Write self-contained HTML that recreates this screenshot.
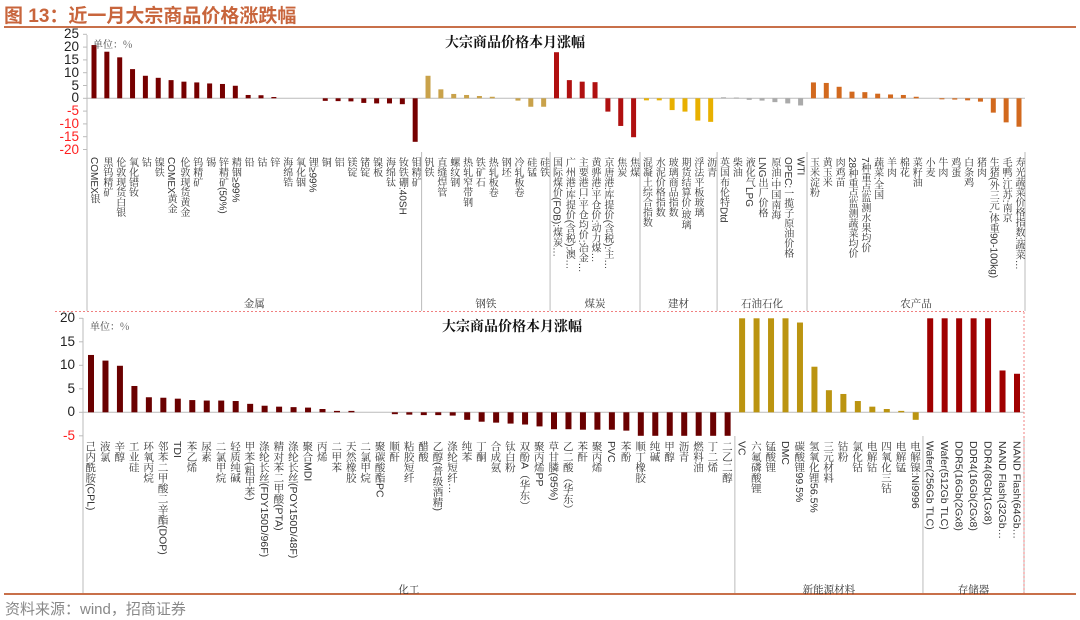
<!DOCTYPE html>
<html><head><meta charset="utf-8">
<style>
body{margin:0;width:1080px;height:620px;background:#fff;position:relative;overflow:hidden;font-family:"Liberation Sans","Noto Sans CJK SC",sans-serif;}
.abs{position:absolute;}
.vl{position:absolute;writing-mode:vertical-rl;white-space:nowrap;color:#333;font-family:"Liberation Sans","Noto Serif CJK SC",serif;line-height:1;}
.tk{position:absolute;font-size:13.5px;text-align:right;width:40px;line-height:1;color:#222;}
.grp{position:absolute;font-size:10.5px;color:#333;font-family:"Noto Serif CJK SC",serif;transform:translateX(-50%);white-space:nowrap;}
</style></head>
<body>
<div class="abs" style="left:4px;top:1px;font-size:19px;font-weight:bold;color:#C8653C;font-family:'Liberation Sans','Noto Sans CJK SC',sans-serif;">图 13：近一月大宗商品价格涨跌幅</div>
<div class="abs" style="left:4px;top:26px;width:1072px;height:2px;background:#C8704A;"></div>
<svg id="svg" class="abs" style="left:0;top:0" width="1080" height="620"></svg>
<div class="abs" style="left:445px;top:32px;font-size:14px;font-weight:bold;font-family:'Noto Serif CJK SC',serif;color:#111;">大宗商品价格本月涨幅</div>
<div class="abs" style="left:93px;top:36px;font-size:10px;color:#444;font-family:'Noto Serif CJK SC',serif;">单位：%</div>
<div class="abs" style="left:442px;top:316px;font-size:14px;font-weight:bold;font-family:'Noto Serif CJK SC',serif;color:#111;">大宗商品价格本月涨幅</div>
<div class="abs" style="left:90px;top:318px;font-size:10px;color:#444;font-family:'Noto Serif CJK SC',serif;">单位：%</div>
<div class="abs" style="left:4px;top:593px;width:1072px;height:2px;background:#C8704A;"></div>
<div class="abs" style="left:5px;top:598px;font-size:15px;color:#888;">资料来源：wind，招商证券</div>
<div id="lab"></div>
<script>
// ---- top chart data ----
const topCats=["COMEX银","黑钨精矿","伦敦现货白银","氧化镨钕","钴","镍铁","COMEX黄金","伦敦现货黄金","钨精矿","锡","锌精矿(50%)","精铟≥99%","铅","钴","锌","海绵锆","氧化铟","锂≥99%","铜","铝","镁锭","锗锭","镍板","海绵钛","钕铁硼:40SH","钼精矿",
"钒铁","直缝焊管","螺纹钢","热轧窄带钢","铁矿石","热轧板卷","钢坯","冷轧板卷","硅锰","硅铁",
"国际煤价(FOB):煤炭…","广州港:库提价(含税):澳…","主要港口:平仓均价:冶金…","黄骅港:平仓价:动力煤…","京唐港:库提价(含税):主…","焦炭","焦煤",
"混凝土综合指数","水泥价格指数","玻璃商品指数","期货结算价:玻璃","浮法平板玻璃","沥青",
"英国布伦特Dtd","柴油","液化气LPG","LNG出厂价格","原油:中国南海","OPEC:一揽子原油价格","WTI",
"玉米淀粉","黄玉米","肉鸡苗","28种重点监测蔬菜均价","7种重点监测水果均价","蔬菜:全国","羊肉","棉花","菜籽油","小麦","牛肉","鸡蛋","白条鸡","猪肉","生猪(外三元,体重90-100kg)","毛鸭:江苏:南京","寿光蔬菜价格指数:蔬菜…"];
const topVals=[20.8,18.2,16,11.4,8.8,8,7.1,6.5,6.2,5.8,5.6,4.9,1.3,1.2,0.5,0,0,0,-1,-1.1,-1.2,-1.8,-2,-2,-2.3,-17,
8.8,3.5,1.7,1.3,0.9,0.6,0,-0.9,-3.3,-3.3,
18,7.1,6.5,6.3,-5.2,-10.8,-15.2,
-0.8,-0.8,-4.6,-5.2,-8.7,-9.2,
0.4,0.3,-0.6,-0.9,-1.5,-2,-2.8,
6.2,6,4.5,2.6,2.4,1.8,1.5,1.3,0.6,0,-0.4,-0.5,-0.8,-1.3,-5.6,-9.4,-11.1];
const topGroups=["金属","钢铁","煤炭","建材","石油石化","农产品"];
const topGroupSizes=[26,10,7,6,7,17];
const topTicks=[25,20,15,10,5,0,-5,-10,-15,-20];
// ---- bottom chart data ----
const botCats=["己内酰胺(CPL)","液氯","辛醇","工业硅","环氧丙烷","邻苯二甲酸二辛酯(DOP)","TDI","苯乙烯","尿素","二氯甲烷","轻质纯碱","甲苯(粗甲苯)","涤纶长丝(FDY150D/96F)","精对苯二甲酸(PTA)","涤纶长丝(POY150D/48F)","聚合MDI","丙烯","二甲苯","天然橡胶","二氯甲烷","聚碳酸酯PC","顺酐",
"粘胶短纤","醋酸","乙醇(普级酒精)","涤纶短纤…","纯苯","丁酮","合成氨","钛白粉","双酚A（华东）","聚丙烯PP","草甘膦(95%)","乙二酸（华东）","苯酐","聚丙烯","PVC","苯酚","顺丁橡胶","纯碱","甲醇","沥青","燃料油","丁二烯","二乙二醇",
"VC","六氟磷酸锂","锰酸锂","DMC","碳酸锂99.5%","氢氧化锂56.5%","三元材料","钴粉","氯化钴","电解钴","四氧化三钴","电解锰","电解镍:Ni9996",
"Wafer(256Gb TLC)","Wafer(512Gb TLC)","DDR5(16Gb(2Gx8)","DDR4(16Gb(2Gx8)","DDR4(8Gb(1Gx8)","NAND Flash(32Gb…","NAND Flash(64Gb…"];
const botVals=[12.2,11,9.9,5.6,3.2,3.1,2.9,2.6,2.5,2.5,2.4,1.8,1.4,1.2,1.1,1.0,0.7,0.3,0.3,0,0,-0.4,
-0.5,-0.6,-0.6,-0.7,-1.6,-2,-2.2,-2.4,-2.6,-3,-3.6,-3.6,-3.7,-3.7,-3.7,-3.9,-5,-5,-5,-5,-5,-5,-5,
25,25,25,25,19.1,9.7,4.7,3.9,2.4,1.2,0.7,0.3,-1.6,
25,25,25,25,25,8.9,8.2];
const botGroups=["化工","新能源材料","存储器"];
const botGroupSizes=[45,13,7];
const botTicks=[20,15,10,5,0,-5];

const NS="http://www.w3.org/2000/svg";
const svg=document.getElementById('svg');
const lab=document.getElementById('lab');
function line(x1,y1,x2,y2,c,w,dash,name){const l=document.createElementNS(NS,'line');l.setAttribute('x1',x1);l.setAttribute('y1',y1);l.setAttribute('x2',x2);l.setAttribute('y2',y2);l.setAttribute('stroke',c);l.setAttribute('stroke-width',w);if(dash)l.setAttribute('stroke-dasharray',dash);


svg.appendChild(l);}

function drawChart(o){
  const n=o.cats.length;
  const xs=i=>o.x0+i*(o.x1-o.x0)/(n-1);
  const ys=v=>o.yZero-Math.max(o.vmin,Math.min(o.vmax,v))*o.k;
  // axes
  line(o.axisX,o.axTop,o.axisX,o.axBot,'#bbb',1,null,o.p+'-y-axis');
  line(o.axisX,o.yZero,o.right,o.yZero,'#bbb',1,null,o.p+'-x-axis');
  o.ticks.forEach(t=>{
    line(o.axisX-4,ys(t),o.axisX,ys(t),'#bbb',1,null,o.p+'-tick');
    const d=document.createElement('div');d.className='tk';
    d.style.left=(o.axisX-48)+'px';d.style.top=(ys(t)-7)+'px';
    d.style.color=t<0?'#FF2020':'#222';d.textContent=t;
    
    
    lab.appendChild(d);
  });
  // groups
  let start=0;
  o.groups.forEach((g,gi)=>{
    const end=start+o.sizes[gi]-1;
    const sepR=(gi==o.groups.length-1)?o.right:(xs(end)+xs(end+1))/2;
    line(sepR,o.sepTop,sepR,o.sepBot,'#bbb',1,null,o.p+'-group-separator');
    const left=start==0?o.axisX:(xs(start-1)+xs(start))/2;
    const d=document.createElement('div');d.className='grp';
    d.style.left=((left+sepR)/2)+'px';d.style.top=o.grpY+'px';d.textContent=g;
    
    
    lab.appendChild(d);
    for(let i=start;i<=end;i++){
      const v=o.vals[i];const x=xs(i);const y=ys(v);
      const r=document.createElementNS(NS,'rect');
      r.setAttribute('x',x-o.bw/2);r.setAttribute('width',o.bw);
      r.setAttribute('y',Math.min(y,o.yZero));r.setAttribute('height',Math.max(Math.abs(y-o.yZero),v==0?0:1));
      r.setAttribute('fill',o.colors[gi]);
      
      
      svg.appendChild(r);
      const t=document.createElement('div');t.className='vl';
      t.style.left=(x-o.fs/2-1)+'px';t.style.top=o.labY+'px';t.style.fontSize=o.fs+'px';
      t.textContent=o.cats[i];
      
      
      lab.appendChild(t);
    }
    start=end+1;
  });
}
drawChart({p:'top',cats:topCats,vals:topVals,groups:topGroups,sizes:topGroupSizes,ticks:topTicks,
 x0:94,x1:1019,yZero:98.3,k:2.56,vmin:-20,vmax:25,axisX:87,axTop:35,axBot:311,right:1025,
 sepTop:152,sepBot:311,grpY:296,labY:157,fs:10,bw:5,
 colors:['#760000','#C9A24A','#B01010','#E8B000','#AAAAAA','#D2691E']});
drawChart({p:'bottom',cats:botCats,vals:botVals,groups:botGroups,sizes:botGroupSizes,ticks:botTicks,
 x0:91,x1:1017,yZero:412.3,k:4.7,vmin:-5,vmax:20,axisX:83,axTop:318,axBot:594,right:1024,
 sepTop:436,sepBot:594,grpY:582,labY:441,fs:10.5,bw:6,
 colors:['#6A0000','#BB9410','#A00000']});
line(55,311.5,1024,311.5,'#F08080',1,'2,2','panel-divider');
line(1024,312,1024,594,'#F08080',1,'2,2','bottom-right-border');
</script>
</body></html>
